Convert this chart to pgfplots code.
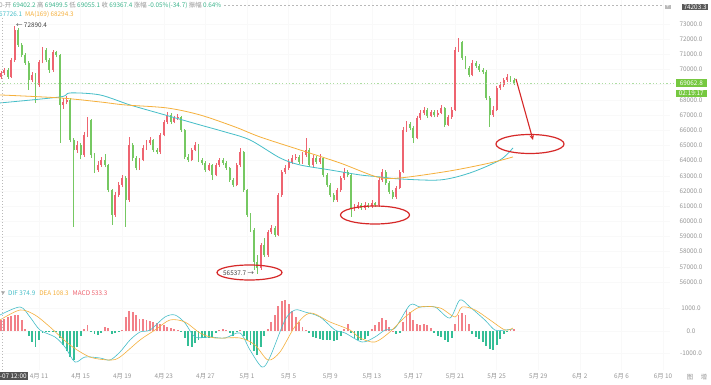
\documentclass[border=0pt]{standalone}
\usepackage{pgfplots}
\pgfplotsset{compat=1.18}
\usepackage{pgfplotstable}
\usepackage{fontspec}
\setmainfont{Noto Sans CJK SC}
\usetikzlibrary{arrows.meta}
\definecolor{upc}{RGB}{238,100,112}
\definecolor{dnc}{RGB}{118,200,98}
\definecolor{hup}{RGB}{242,128,136}
\definecolor{hdn}{RGB}{52,190,150}
\definecolor{maC}{RGB}{70,190,200}
\definecolor{maO}{RGB}{245,176,60}
\definecolor{txtg}{RGB}{150,150,150}
\definecolor{valg}{RGB}{60,180,140}
\definecolor{annR}{RGB}{214,40,40}
\definecolor{boxG}{RGB}{118,200,64}
\newcommand\sm{\fontsize{6.4}{7.6}\selectfont}
\newcommand\PX[2]{({(#1)*1bp},{(385-(#2))*1bp})}
% o h l c = 8-hour candles, m = MACD histogram
\pgfplotstableread{
o h l c m
69500 69900 69380 69772 490
69772 70120 69650 69970 550
69970 70080 69400 69509 600
69509 70750 69450 70628 650
70628 72890 70500 72605 700
72605 72700 71500 71617 700
71617 71750 70800 70958 500
70958 71100 70300 70431 100
70431 70550 68652 69311 -200
69311 69850 69200 69640 -500
69640 69750 67796 68982 -700
68982 70600 68850 70497 -400
70497 71450 70400 71287 -80
71287 71400 70500 70628 -50
70628 70750 69800 69970 -60
69970 71300 69850 71155 -30
71155 71250 70800 70958 -20
70958 71050 65161 67664 -300
67664 68100 67400 67862 -600
67862 68250 67700 67993 -900
67993 68100 65200 65358 -1150
65358 65500 59627 64700 -1290
64700 65300 64500 65029 -700
65029 65150 64100 64370 -200
64370 65850 64250 65688 100
65688 66880 65550 66676 270
66676 66750 64200 64370 -50
64370 64500 63200 63382 -150
63382 63950 63250 63711 -180
63711 64250 63600 64041 -100
64041 64450 63550 63711 200
63711 63800 61900 62065 150
62065 62150 59759 60418 -150
60418 61900 60300 61735 -100
61735 62600 61600 62394 -20
62394 63050 62250 62855 50
62855 62950 59627 61406 600
61406 65556 61300 65029 900
65029 65150 64000 64173 850
64173 64300 63350 63514 700
63514 64200 63400 64041 550
64041 65000 63950 64831 530
64831 65350 64700 65161 500
65161 65550 65050 65358 450
65358 65450 64550 64700 400
64700 64850 64400 64568 350
64568 65800 64450 65688 300
65688 66700 65600 66544 250
66544 67203 66400 67005 200
67005 67100 66400 66544 150
66544 66950 66450 66808 100
66808 67050 66700 66874 30
66874 66950 65900 66017 -20
66017 66100 64100 64238 -300
64238 64400 63900 64041 -650
64041 64850 63950 64700 -700
64700 65200 64600 65029 -550
65029 65100 63900 64041 -400
64041 64200 63700 63843 -300
63843 63950 63250 63382 -320
63382 63850 63300 63711 -300
63711 63800 62723 63053 -250
63053 63850 62950 63711 -100
63711 64200 63600 64041 50
64041 64150 63700 63843 100
63843 63950 63400 63514 60
63514 63600 62600 62723 -100
62723 62850 62250 62394 -200
62394 63850 62300 63711 -50
63711 64831 63600 64568 50
64568 64650 61950 62065 -200
62065 62150 60300 60418 -400
60418 60550 59300 59430 -600
59430 59550 56800 57321 -900
57321 57800 56538 56926 -1060
56926 58600 56800 58441 -700
58441 58900 57650 57783 -200
57783 59450 57650 59298 100
59298 59750 59150 59561 400
59561 59700 58950 59100 700
59100 61850 59000 61735 1100
61735 63400 61600 63250 1350
63250 63700 63100 63514 1380
63514 64100 63400 63909 1200
63909 64350 63800 64173 900
64173 64450 64050 64238 600
64238 64350 63750 63909 400
63909 64550 63800 64370 200
64370 65490 64250 64700 50
64700 64800 63600 63711 -100
63711 64350 63600 64173 -250
64173 64300 63750 63909 -300
63909 64400 63800 64173 -350
64173 64250 62900 63053 -380
63053 63150 62250 62394 -400
62394 62500 61600 61735 -420
61735 61850 61250 61406 -450
61406 62200 61300 62065 -400
62065 63000 61950 62855 -200
62855 63500 62750 63250 100
63250 63400 62900 63053 300
63053 63150 60286 60879 -100
60879 61150 60700 60945 -300
60945 61250 60800 61076 -380
61076 61200 60750 60879 -420
60879 61250 60750 61076 -350
61076 61200 60850 61011 -200
61011 61400 60900 61208 100
61208 61300 60950 61076 250
61076 62900 60950 62723 400
62723 63450 62600 63250 580
63250 63350 62400 62526 500
62526 62650 61800 61933 200
61933 62050 61450 61603 20
61603 62350 61500 62196 -150
62196 63400 62100 63250 -80
63250 66200 63150 66017 400
66017 66600 65900 66412 930
66412 66550 66000 66149 850
66149 66250 65161 65490 500
65490 66950 65400 66808 320
66808 67300 66700 67137 280
67137 67500 67000 67335 300
67335 67450 66800 66939 250
66939 67350 66850 67203 150
67203 67300 66850 67005 -100
67005 67300 66900 67137 -200
67137 67650 67050 67466 -250
67466 67550 66200 66346 -400
66346 67000 66250 66874 -480
66874 67500 66750 67335 -300
67335 71450 67250 71287 300
71287 72078 71150 71814 700
71814 71900 70650 70760 800
70760 70900 70000 70101 700
70101 70200 69500 69640 300
69640 70600 69550 70431 -150
70431 70550 70100 70233 -250
70233 70350 69850 69970 -350
69970 70100 69700 69838 -500
69838 69950 68000 68125 -650
68125 68250 66215 67005 -800
67005 67600 66900 67335 -850
67335 68900 67250 68784 -600
68784 69150 68650 68982 -350
68982 69450 68850 69311 -150
69311 69700 69200 69509 -30
69509 69600 69150 69311 80
69311 69450 68950 69063 100
}\candles
\pgfplotsset{
 base/.style={scale only axis, width=670bp, xmin=0.75, xmax=194.0,
  axis line style={draw=none}, tick style={draw=none},
  grid=major, grid style={gray!5, line width=0.4bp},
  xtick={12,24,...,192}, yticklabel pos=right,
  yticklabel style={anchor=center, xshift=21bp, font=\sm, text=txtg},
  xticklabel style={font=\sm, text=txtg}}
}
\begin{document}
\begin{tikzpicture}
\useasboundingbox (0,0) rectangle (711bp,385bp);
\fill[white] (0,0) rectangle (711bp,385bp);
% price panel
\begin{axis}[base, at={(0,95bp)}, anchor=south west, height=290bp,
  ymin=55473, ymax=74577, ytick={56000,57000,...,73000},
  yticklabels={56000.0,57000.0,58000.0,59000.0,60000.0,61000.0,62000.0,63000.0,64000.0,65000.0,66000.0,67000.0,68000.0,,70000.0,71000.0,72000.0,73000.0},
  xticklabels={},
  colormap={updown}{color(0)=(dnc) color(1)=(upc)},
  point meta min=0, point meta max=1]
 \addplot[quiver={u=0, v=\thisrow{h}-\thisrow{l}, colored, every arrow/.append style={line width=0.5bp}},
   point meta=explicit] table[x expr=\coordindex+1, y=l, meta expr={ifthenelse(\thisrow{c}>=\thisrow{o},1,0)}] {\candles};
 \addplot[quiver={u=0, v=\thisrow{c}-\thisrow{o}, colored, every arrow/.append style={line width=1.9bp}},
   point meta=explicit] table[x expr=\coordindex+1, y=o, meta expr={ifthenelse(\thisrow{c}>=\thisrow{o},1,0)}] {\candles};
 \addplot[maC, line width=0.8bp, smooth] coordinates {(0.75,67796)(18.06,68191)(20.94,68455)(29.59,68323)(38.25,67664)(48.34,67005)(58.44,66346)(65.65,65885)(72.86,65358)(81.51,64173)(87.28,63711)(95.93,63382)(104.6,63053)(110.4,62921)(116.1,62789)(127.7,62723)(136.3,63184)(145.0,64041)(148.7,64831)};
 \addplot[maO, line width=0.8bp, smooth] coordinates {(0.75,68323)(18.06,68125)(29.59,67862)(36.8,67664)(48.92,67466)(58.44,67005)(68.54,66215)(75.75,65556)(87.28,64700)(98.8,63843)(109.5,62921)(116.1,62855)(130.5,63316)(142.1,63843)(148.7,64238)};
\end{axis}
% MACD panel
\begin{axis}[base, at={(0,15bp)}, anchor=south west, height=80bp,
  ymin=-1733, ymax=1822, ytick={-1000,0,1000}, yticklabels={-1000.0,0.0,1000.0},
  xticklabels={4月 11,4月 15,4月 19,4月 23,4月 27,5月 1,5月 5,5月 9,5月 13,5月 17,5月 21,5月 25,5月 29,6月 2,6月 6,6月 10},
  colormap={hist}{color(0)=(hdn) color(1)=(hup)},
  point meta min=0, point meta max=1]
 \addplot[quiver={u=0, v=\thisrow{m}, colored, every arrow/.append style={line width=1.9bp}},
   point meta=explicit] table[x expr=\coordindex+1, y expr=0, meta expr={ifthenelse(\thisrow{m}>=0,1,0)}] {\candles};
 \addplot[maC, line width=0.6bp, smooth] coordinates {(0.75,711)(6.52,1067)(9.40,622)(12.29,44)(16.61,-267)(19.50,-711)(22.38,-1378)(25.27,-1156)(29.59,-1200)(32.48,-1289)(35.36,-933)(38.25,-400)(41.13,-44)(44.02,44)(48.34,622)(51.23,711)(54.11,356)(57.0,-267)(61.32,-267)(65.65,-311)(69.98,-89)(72.86,-844)(76.32,-1600)(78.63,-1156)(82.96,489)(85.84,933)(88.73,844)(93.05,622)(97.38,44)(100.3,-89)(105.2,-489)(108.9,-267)(111.8,44)(114.7,133)(119.0,1156)(121.9,1067)(126.2,1067)(130.5,578)(133.4,1378)(136.3,1067)(140.6,489)(143.5,44)(146.4,44)(148.7,89)};
 \addplot[maO, line width=0.6bp, smooth] coordinates {(0.75,489)(6.52,933)(10.85,711)(15.17,178)(20.94,-622)(26.71,-1156)(32.48,-1289)(35.36,-1156)(41.13,-400)(45.46,44)(49.78,489)(54.11,400)(58.44,-89)(62.76,-311)(69.98,-311)(74.3,-622)(78.05,-1289)(81.51,-933)(85.84,200)(90.17,800)(95.93,400)(101.7,44)(104.6,-311)(108.9,-489)(113.2,-44)(117.6,622)(121.9,1067)(127.7,1022)(132.0,622)(134.0,1067)(137.8,933)(142.1,489)(146.4,44)(148.7,133)};
\end{axis}
% overlays
\draw[gray!55, dash pattern=on 2bp off 2bp, line width=0.5bp] \PX{224}{5} -- \PX{662}{5};
\draw[dnc!60, dash pattern=on 1.2bp off 2.2bp, line width=0.6bp] \PX{0}{83.6} -- \PX{674}{83.6};
\draw[gray!55, dash pattern=on 1bp off 2bp, line width=0.6bp] \PX{2}{18} -- \PX{2}{370};
\node[anchor=west, inner sep=0, font=\sm] at \PX{-1}{5} {\color{txtg}0-开 \color{valg}69402.2 \color{txtg}高 \color{valg}69499.5 \color{txtg}低 \color{valg}69055.1 \color{txtg}收 \color{valg}69367.4 \color{txtg}涨幅 \color{valg}-0.05\%(-34.7) \color{txtg}振幅 \color{valg}0.64\%};
\node[anchor=west, inner sep=0, font=\sm] at \PX{-1}{14.5} {\color{maC}67726.1\hspace{3bp}\color{maO}MA(169) 68294.3};
\fill[gray!70] \PX{1}{291.5} -- \PX{5}{291.5} -- \PX{3}{294.5} -- cycle;
\node[anchor=west, inner sep=0, font=\sm] at \PX{8}{293} {\color{maC}DIF 374.9\hspace{4bp}\color{maO}DEA 108.3\hspace{4bp}\color{upc}MACD 533.3};
\node[anchor=west, inner sep=0, font=\sm, text=black!75] at \PX{16}{25} {← 72890.4};
\node[anchor=west, inner sep=0, font=\sm, text=black!75] at \PX{223}{273} {56537.7 →};
\node[anchor=east, fill=gray!70!black, text=white, font=\sm, inner xsep=1.2bp, inner ysep=0.6bp] at \PX{708}{7} {74203.3};
\node[fill=gray!55, text=white, font=\sm, inner xsep=0.8bp, inner ysep=0.4bp] at \PX{668}{7} {+};
\node[anchor=east, fill=boxG, text=white, font=\sm, inner sep=1.2bp, minimum width=31bp] at \PX{707}{83} {69062.8};
\node[anchor=east, fill=boxG, text=white, font=\sm, inner sep=1.2bp, minimum width=31bp] at \PX{707}{93.5} {02:19:17};
\node[anchor=east, fill=gray!65!black, text=white, font=\sm, inner sep=1.2bp] at \PX{28}{376} {04-07 12:00};
\node[font=\sm, text=txtg] at \PX{690}{377} {图};
\node[font=\sm, text=txtg] at \PX{704}{377} {增};
% annotations
\draw[annR, line width=1.2bp] \PX{249.5}{272.5} ellipse [x radius=32.5bp, y radius=7.5bp];
\draw[annR, line width=1.2bp] \PX{375}{215} ellipse [x radius=34.5bp, y radius=9bp];
\draw[annR, line width=1.2bp] \PX{530}{144} ellipse [x radius=34bp, y radius=9.5bp];
\draw[annR, line width=1.1bp, -{Stealth[length=5bp,width=4.5bp]}] \PX{516}{79} -- \PX{533}{140};
\end{tikzpicture}
\end{document}
